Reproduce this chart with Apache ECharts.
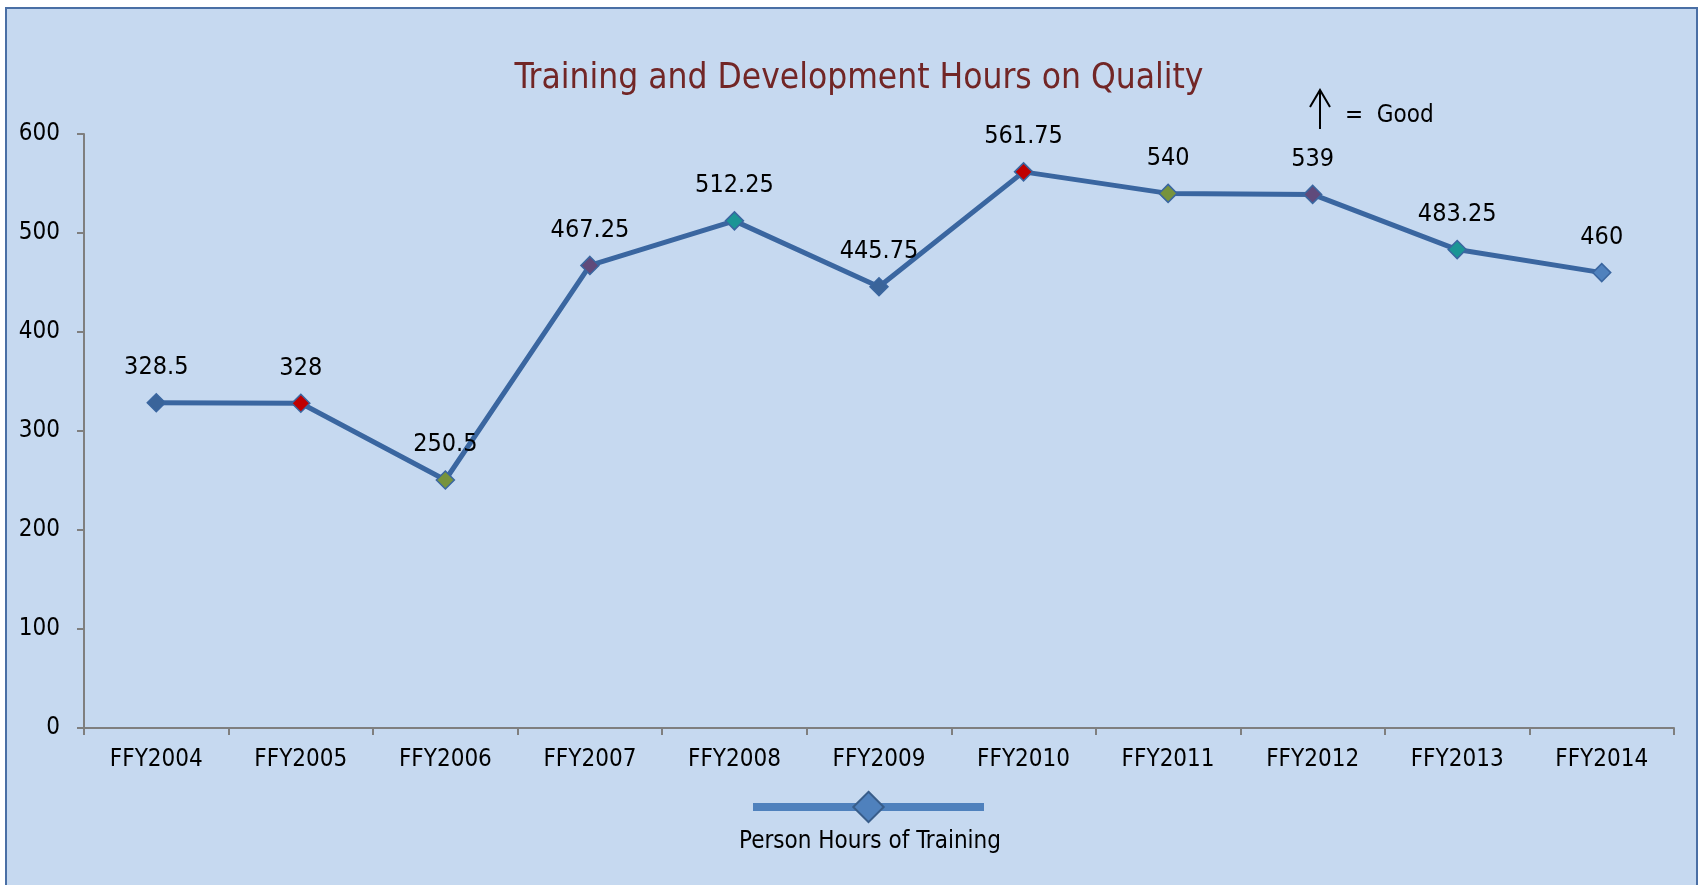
<!DOCTYPE html>
<html>
<head>
<meta charset="utf-8">
<title>Training and Development Hours on Quality</title>
<script src="https://cdn.jsdelivr.net/npm/echarts@6/dist/echarts.min.js"></script>
<style>
  html, body { margin: 0; padding: 0; background: #ffffff; }
  #frame {
    position: absolute; left: 5px; top: 7px; width: 1693px; height: 900px;
    background: #c6d9f0; border: 2px solid #4a6fa5; box-sizing: border-box;
  }
  #main { position: absolute; left: 0; top: 0; width: 1703px; height: 885px; }
</style>
</head>
<body>
<div id="frame"></div>
<div id="main"></div>
<script>
var FONT = "'Liberation Sans Narrow', 'Arial Narrow', 'DejaVu Sans Condensed', sans-serif";

var categories = ["FFY2004", "FFY2005", "FFY2006", "FFY2007", "FFY2008", "FFY2009",
                  "FFY2010", "FFY2011", "FFY2012", "FFY2013", "FFY2014"];
var hours = [328.5, 328, 250.5, 467.25, 512.25, 445.75, 561.75, 540, 539, 483.25, 460];
var markerColors = ["#3a649a", "#c00000", "#77933c", "#604a7b", "#1a9595", "#3a649a",
                    "#c00000", "#77933c", "#604a7b", "#1a9595", "#4f81bd"];
var seriesName = "Person Hours of Training";

var chart = echarts.init(document.getElementById("main"), null, { renderer: "canvas" });

var points = hours.map(function (v, i) {
  return { value: v, itemStyle: { color: markerColors[i] } };
});

chart.setOption({
  backgroundColor: "transparent",
  animation: false,
  title: {
    text: "Training and Development Hours on Quality",
    left: 854, top: 56, textAlign: "center",
    textStyle: { fontFamily: FONT, fontSize: 35, fontWeight: "normal", color: "#722626" }
  },
  grid: { left: 84, right: 29, top: 134, bottom: 157, containLabel: false },
  legend: {
    data: [{ name: seriesName }],
    left: 744, top: 783,
    itemWidth: 231, itemHeight: 38,
    formatter: function () { return ""; },
    itemStyle: { color: "#4f81bd", borderColor: "#385d8a", borderWidth: 2 },
    lineStyle: { color: "#4f81bd", width: 8 },
    selectedMode: false
  },
  xAxis: {
    type: "category",
    data: categories,
    boundaryGap: true,
    axisLine: { lineStyle: { color: "#7f7f7f", width: 2 } },
    axisTick: { show: true, length: 7, lineStyle: { color: "#7f7f7f", width: 2 } },
    axisLabel: { margin: 20, fontFamily: FONT, fontSize: 24, color: "#000000" }
  },
  yAxis: {
    type: "value",
    min: 0, max: 600, interval: 100,
    splitLine: { show: false },
    axisLine: { show: true, lineStyle: { color: "#7f7f7f", width: 2 } },
    axisTick: { show: true, length: 7, lineStyle: { color: "#7f7f7f", width: 2 } },
    axisLabel: { margin: 24, fontFamily: FONT, fontSize: 24, color: "#000000" }
  },
  series: [{
    name: seriesName,
    type: "line",
    data: points,
    symbol: "diamond",
    symbolSize: 18,
    lineStyle: { color: "#3a66a0", width: 5 },
    itemStyle: { borderColor: "#3a66a0", borderWidth: 1.5 },
    label: {
      show: true, position: "top", distance: 13,
      fontFamily: FONT, fontSize: 25, color: "#000000"
    }
  }],
  graphic: [
    { type: "line", shape: { x1: 1320, y1: 90, x2: 1320, y2: 129 },
      style: { stroke: "#000000", lineWidth: 2 } },
    { type: "polyline", shape: { points: [[1310, 107], [1320, 90], [1330, 107]] },
      style: { stroke: "#000000", lineWidth: 2, fill: null } },
    { type: "text", x: 1345, y: 116,
      style: { text: "=  Good", font: "24px " + FONT, fill: "#000000",
               align: "left", verticalAlign: "middle" } },
    { type: "text", x: 870, y: 842,
      style: { text: seriesName, font: "24px " + FONT, fill: "#000000",
               align: "center", verticalAlign: "middle" } }
  ]
});
</script>
</body>
</html>
